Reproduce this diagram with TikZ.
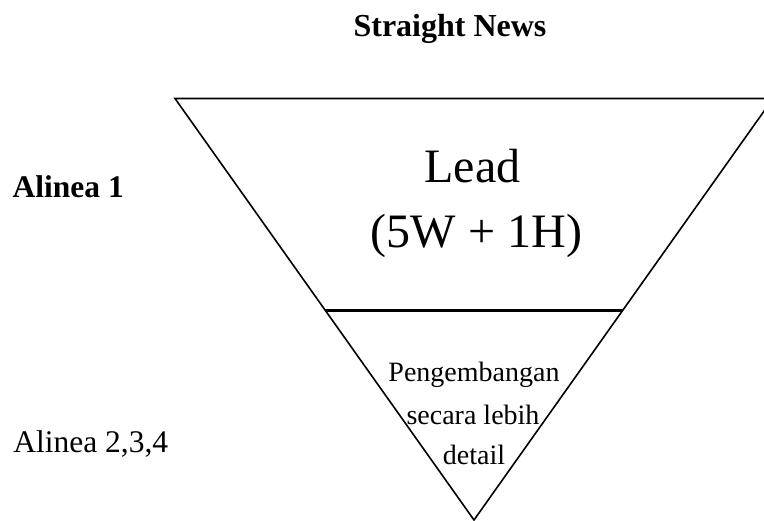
\documentclass[tikz,border=0pt]{standalone}
\usepackage{fontspec}
\setmainfont{Liberation Serif}
\usetikzlibrary{calc}
\begin{document}
\begin{tikzpicture}[x=1pt,y=-1pt,
  edge/.style={line width=1.6pt, line join=miter},
  divider/.style={line width=3pt},
  lbl/.style={inner sep=0pt, outer sep=0pt, anchor=base},
  lblw/.style={inner sep=0pt, outer sep=0pt, anchor=base west}]
\useasboundingbox (0,0) rectangle (764,521);
\clip (0,0) rectangle (764,521);
\coordinate (tl) at (175,98.5);
\coordinate (tr) at (773,98.5);
\coordinate (ap) at (474,520);
\draw[edge] (tl) -- (tr) -- (ap) -- cycle;
\coordinate (ml) at ($(tl)!0.5018!(ap)$);
\coordinate (mr) at ($(tr)!0.5018!(ap)$);
\draw[divider] (ml) -- (mr);
\node[lbl] (title) at (450,36.7) {\fontsize{32}{38}\selectfont\bfseries Straight News};
\node[lblw] (a1) at (12.7,198) {\fontsize{31.5}{38}\selectfont\bfseries Alinea 1};
\node[lblw] (a2) at (13.3,452.5) {\fontsize{31.5}{38}\selectfont Alinea 2,3,4};
\node[lbl] (lead) at (472.5,183) {\fontsize{48}{56}\selectfont Lead};
\node[lbl] (w5) at (476.5,248) {\fontsize{48}{56}\selectfont (5W + 1H)};
\node[lbl] (p1) at (474,382) {\fontsize{28}{34}\selectfont Pengembangan};
\node[lbl] (p2) at (473,425) {\fontsize{28}{34}\selectfont secara lebih};
\node[lbl] (p3) at (474,465) {\fontsize{28}{34}\selectfont detail};
\end{tikzpicture}
\end{document}
